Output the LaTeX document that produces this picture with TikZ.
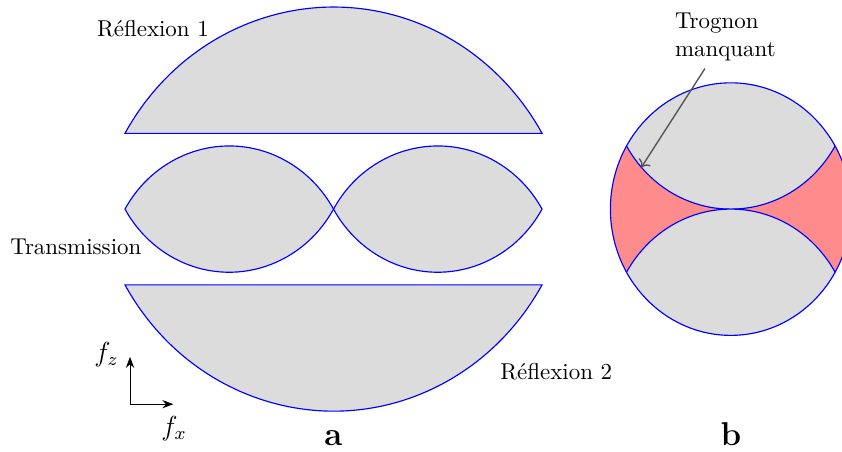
\documentclass[tikz,border=0pt]{standalone}
\usepackage{tikz}
\usetikzlibrary{arrows.meta, calc}
\definecolor{ewGray}{HTML}{DCDCDC}
\definecolor{ewRed}{HTML}{FF8C8C}
\definecolor{ewArrow}{HTML}{555555}

\begin{document}
\begin{tikzpicture}[x=0.923cm, y=0.968cm,
  zone/.style={fill=ewGray, draw=blue, line width=0.5pt}]
  \useasboundingbox (-5.54,-3.835) rectangle (8.447,3.312);
  % a : reflexions
  \path[zone] (-3.464,1.2) arc[start angle=150, end angle=30, radius=4] -- cycle;
  \path[zone] (-3.464,-1.2) arc[start angle=210, end angle=330, radius=4] -- cycle;
  % a : transmission
  \foreach \dx in {0,3.464}{
    \path[zone] (-3.464+\dx,0) arc[start angle=150, end angle=30, radius=2]
                arc[start angle=-30, end angle=-150, radius=2] -- cycle;
  }
  % b
  \fill[ewRed] (6.6,0) circle (2);
  \begin{scope}
    \clip (6.6,0) circle (2);
    \foreach \s in {1,-1}{\path[zone] (6.6,2*\s) circle (2);}
  \end{scope}
  \draw[blue, line width=0.5pt] (6.6,0) circle (2);
  % textes
  \node (refl1) at (-3.0,2.85) {Réflexion 1};
  \node (trans) at (-4.28,-0.594) {Transmission};
  \node (refl2) at (3.70,-2.575) {Réflexion 2};
  \node[align=left] (trognon) at (6.51,2.73) {Trognon\\manquant};
  \coordinate (trou) at ($(6.6,2)+(222:2)$);
  \draw[->, ewArrow, line width=0.6pt] (trognon) -- (trou);
  % axes
  \coordinate (axo) at (-3.38,-3.09);
  \coordinate (axz) at (-3.38,-2.34);
  \coordinate (axx) at (-2.66,-3.09);
  \draw[-{Stealth}] (axo) -- (axz);
  \draw[-{Stealth}] (axo) -- (axx);
  \node[font=\large] (fz) at (-3.77,-2.30) {$f_z$};
  \node[font=\large] (fx) at (-2.65,-3.48) {$f_x$};
  \node[anchor=base, font=\Large\bfseries] (la) at (0,-3.74) {a};
  \node[anchor=base, font=\Large\bfseries] (lb) at (6.6,-3.74) {b};
\end{tikzpicture}
\end{document}
